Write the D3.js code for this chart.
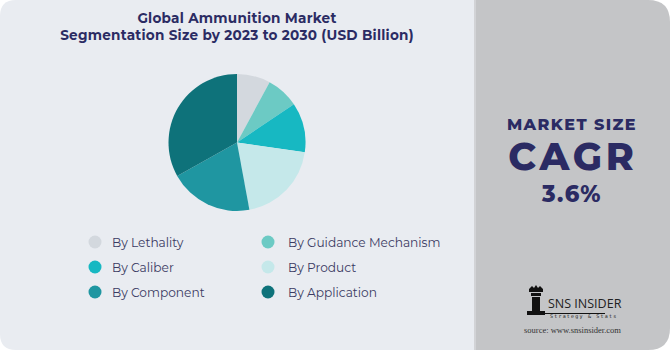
<!DOCTYPE html>
<html><head><meta charset="utf-8">
<script src="https://cdn.jsdelivr.net/npm/d3@7"></script>
<style>html,body{margin:0;padding:0;background:#fff;}svg{display:block;}</style>
</head><body>
<svg id="c" width="670" height="350"></svg>
<script>
const categories = ["By Lethality","By Guidance Mechanism","By Caliber","By Product","By Component","By Application"];
const values = [7.9, 7.7, 11.7, 19.8, 19.8, 33.1];
const colors = ["#d3d8de","#6ccac4","#17b8c2","#c5e8ea","#1f96a1","#0e727a"];
const titleLines = ["Global Ammunition Market","Segmentation Size by 2023 to 2030 (USD Billion)"];
const cagrLabel = ["MARKET SIZE","CAGR","3.6%"];

const svg = d3.select("#c");
const font = "Montserrat, 'Open Sans', 'Noto Sans', sans-serif";
const navy = "#2b2b63";

// right panel (rounded right corners)
svg.append("path").attr("d","M470,0 H648 Q670,0 670,22 V328 Q670,350 648,350 H470 Z").attr("fill","#c4c5c7");
// left panel (rounded left corners)
svg.append("path").attr("d","M16,0 H474 V350 H16 Q0,350 0,334 V16 Q0,0 16,0 Z").attr("fill","#e9ecf1");
svg.append("rect").attr("x",474).attr("y",0).attr("width",2).attr("height",350).attr("fill","#d2d3d6");

// title
svg.append("g").selectAll("text").data(titleLines).join("text")
  .attr("x",237).attr("y",(d,i)=>23+i*17).attr("text-anchor","middle")
  .attr("font-family",font).attr("font-weight",700).attr("font-size",13.6)
  .attr("letter-spacing",0.25)
  .attr("fill",navy).text(d=>d);

// pie
const pie = d3.pie().sort(null).value(d=>d)(values);
const arc = d3.arc().innerRadius(0).outerRadius(68.5);
svg.append("g").attr("transform","translate(237,142.5)")
  .selectAll("path").data(pie).join("path")
  .attr("d",arc).attr("fill",(d,i)=>colors[i]);

// legend
const colX = [95, 268];
const txtX = [112, 288];
const rowY = [242, 267, 292];
const leg = svg.append("g").selectAll("g").data(categories).join("g")
  .attr("transform",(d,i)=>`translate(${colX[i%2]},${rowY[Math.floor(i/2)]})`);
leg.append("circle").attr("r",6.5).attr("fill",(d,i)=>colors[i]);
leg.append("text").attr("x",(d,i)=>txtX[i%2]-colX[i%2]).attr("y",4.5)
  .attr("font-family",font).attr("font-size",12.2).attr("fill","#3a3a62").text(d=>d);

// right panel texts
svg.append("text").attr("x",572).attr("y",130).attr("text-anchor","middle")
  .attr("font-family",font).attr("font-weight",800).attr("font-size",16).attr("letter-spacing",1.4)
  .attr("fill",navy).text(cagrLabel[0]);
svg.append("text").attr("x",573).attr("y",170).attr("text-anchor","middle")
  .attr("font-family",font).attr("font-weight",800).attr("font-size",38).attr("letter-spacing",3.8)
  .attr("fill",navy).text(cagrLabel[1]);
svg.append("text").attr("x",572).attr("y",202).attr("text-anchor","middle")
  .attr("font-family",font).attr("font-weight",800).attr("font-size",22.5).attr("letter-spacing",1.5)
  .attr("fill",navy).text(cagrLabel[2]);

// logo
const lg = svg.append("g").attr("fill","#111");
lg.append("path").attr("d","M529,289 l3,-3 l2,2 l2,-3 l2,3 l2,-2 l3,3 v3 h-14 z");
lg.append("rect").attr("x",531).attr("y",293).attr("width",10).attr("height",3);
lg.append("rect").attr("x",532).attr("y",297).attr("width",8).attr("height",14);
lg.append("rect").attr("x",527).attr("y",311).attr("width",18).attr("height",4);
lg.append("rect").attr("x",545).attr("y",313).attr("width",60).attr("height",1);
svg.append("text").attr("x",548).attr("y",308).attr("font-family","'Open Sans', sans-serif")
  .attr("font-size",12.5).attr("fill","#222").text("SNS INSIDER");
svg.append("text").attr("x",550).attr("y",318).attr("font-family","'DejaVu Sans Mono', monospace")
  .attr("font-size",5).attr("letter-spacing",1.2).attr("fill","#222").text("Strategy & Stats");
svg.append("text").attr("x",524).attr("y",333).attr("font-family","'Liberation Serif', serif")
  .attr("font-size",8.5).attr("fill","#333").text("source: www.snsinsider.com");
</script>
</body></html>
